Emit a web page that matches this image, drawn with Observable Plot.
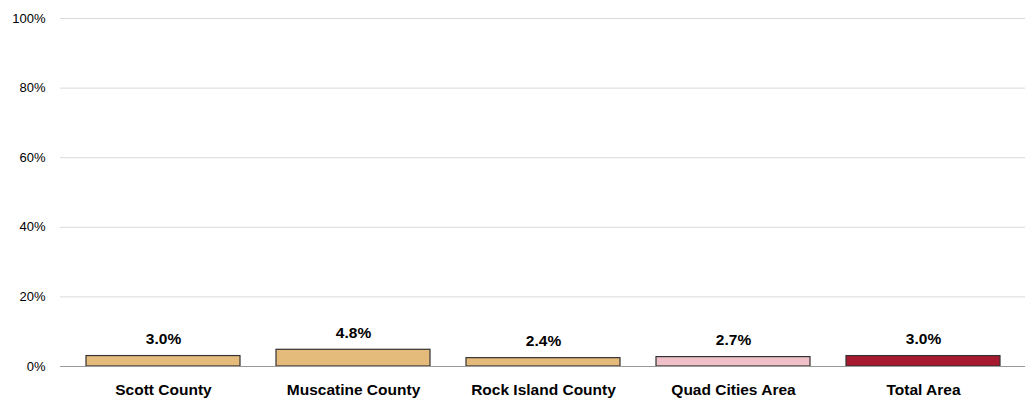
<!DOCTYPE html>
<html>
<head>
<meta charset="utf-8">
<script src="https://cdn.jsdelivr.net/npm/d3@7"></script>
<script src="https://cdn.jsdelivr.net/npm/@observablehq/plot@0.6"></script>
<style>
  html, body { margin: 0; padding: 0; background: #fff; }
  #chart svg { display: block; }
</style>
</head>
<body>
<div id="chart"></div>
<script>
const categories = ["Scott County", "Muscatine County", "Rock Island County", "Quad Cities Area", "Total Area"];
const values = [3.0, 4.8, 2.4, 2.7, 3.0];
const colors = ["#E5BB7C", "#E5BB7C", "#E5BB7C", "#F0C0C8", "#A6192E"];
const yTicks = [0, 20, 40, 60, 80, 100];

const data = categories.map((c, i) => ({category: c, value: values[i], color: colors[i]}));

const chart = Plot.plot({
  width: 1031,
  height: 402,
  marginTop: 18,
  marginBottom: 36,
  marginLeft: 60,
  marginRight: 6,
  style: {fontFamily: "Liberation Sans, Arial, sans-serif", fontSize: "13px", color: "#000"},
  x: {domain: categories, range: [66, 1020], paddingInner: 0.19, paddingOuter: 0.095, axis: null},
  y: {domain: [0, 100]},
  marks: [
    Plot.ruleY(yTicks.filter(d => d > 0), {stroke: "#d9d9d9", strokeWidth: 1}),
    Plot.axisY(yTicks, {tickSize: 0, tickPadding: 15, tickFormat: d => d + "%", fontSize: 13, fill: "#000", label: null}),
    Plot.barY(data, {x: "category", y: "value", fill: "color", stroke: "#333", strokeWidth: 1.2}),
    Plot.ruleY([0], {stroke: "#999", strokeWidth: 1.2}),
    Plot.text(data, {x: "category", y: "value", text: d => d.value.toFixed(1) + "%", dy: -17, fontWeight: "bold", fontSize: 15.5, fill: "#000"}),
    Plot.text(data, {x: "category", y: 0, text: "category", dy: 24, fontWeight: "bold", fontSize: 15.5, fill: "#000"})
  ]
});
document.getElementById("chart").appendChild(chart);
</script>
</body>
</html>
